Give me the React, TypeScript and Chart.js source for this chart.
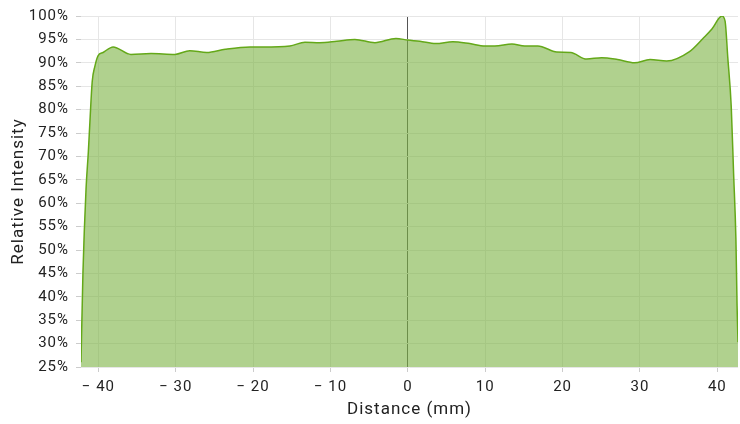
import React, { useEffect, useRef } from "react";
import { Chart, registerables } from "chart.js";

Chart.register(...registerables);

const distances = [
  -42.25, -42.0, -41.6, -41.3, -41.1, -40.8, -40.45, -40.05, -39.4, -38.1, -35.8, -33.2, -30.1, -28.2, -26.0,
  -23.6, -20.4, -18.7, -15.25, -13.3, -11.4, -9.2, -6.85, -4.26, -1.55, 0, 1.55, 3.6, 5.8, 8.0, 9.95, 11.25,
  13.45, 15.1, 16.8, 19.25, 21.05, 23.1, 25.05, 27.1, 29.3, 31.3, 33.45, 36.4, 38.2, 39.3, 40.6, 41.0, 41.35,
  41.8, 42.1, 42.4, 42.55, 42.67,
];
const intensities = [
  26, 45, 63, 71, 77.3, 86, 89.3, 91.5, 92.2, 93.4, 91.8, 92.0, 91.8, 92.6, 92.2,
  92.9, 93.4, 93.4, 93.6, 94.4, 94.3, 94.6, 95.0, 94.3, 95.2, 94.85, 94.6, 94.1, 94.5, 94.1, 93.6, 93.6,
  94.0, 93.6, 93.6, 92.3, 92.2, 90.8, 91.1, 90.7, 90.0, 90.7, 90.4, 92.4, 95.3, 97.2, 100, 98.9, 91.1,
  80.5, 66.4, 52.3, 38.1, 30.3,
];
const xMin = -42.25;
const xMax = 42.67;
const yMin = 25;
const yMax = 100;
const xTitle = "Distance (mm)";
const yTitle = "Relative Intensity";

const spacingPlugin = {
  id: "letterSpacing",
  beforeUpdate(chart: any) {
    chart.ctx.letterSpacing = "1px";
  },
  beforeDraw(chart: any) {
    chart.ctx.letterSpacing = "1px";
  },
};

export default function App() {
  const ref = useRef<HTMLCanvasElement>(null);
  useEffect(() => {
    if (!ref.current) return;
    const points = distances.map((d, i) => ({ x: d, y: intensities[i] }));
    const tickFont = { family: "Roboto", size: 15 };
    const titleFont = { family: "Roboto", size: 17 };
    const chart = new Chart(ref.current, {
      type: "line",
      data: {
        datasets: [
          {
            data: points,
            borderColor: "#64a819",
            backgroundColor: "rgba(124,179,66,0.6)",
            borderWidth: 1.5,
            fill: "origin",
            pointRadius: 0,
            cubicInterpolationMode: "monotone",
          },
        ],
      },
      plugins: [spacingPlugin],
      options: {
        animation: false,
        responsive: false,
        maintainAspectRatio: false,
        layout: { autoPadding: false, padding: { top: 13, right: 2, left: 0, bottom: 0 } },
        plugins: { legend: { display: false }, tooltip: { enabled: false } },
        scales: {
          x: {
            type: "linear",
            min: xMin,
            max: xMax,
            border: { display: false },
            grid: {
              color: (c: any) => (c.tick && c.tick.value === 0 ? "#555555" : "#e6e6e6"),
              tickLength: 5,
              tickColor: "#cccccc",
            },
            ticks: {
              stepSize: 10,
              includeBounds: false,
              maxRotation: 0,
              padding: 6,
              color: "#222222",
              font: tickFont,
              callback: (v: any) => (v < 0 ? "\u2212 " + Math.abs(v) : String(v)),
            },
            title: { display: true, text: xTitle, color: "#222222", font: titleFont, padding: { top: 4, bottom: 4 } },
            afterFit: (s: any) => {
              s.height = 57;
            },
          },
          y: {
            min: yMin,
            max: yMax,
            border: { display: false },
            grid: { color: "#e6e6e6", tickLength: 5, tickColor: "#cccccc" },
            ticks: {
              stepSize: 5,
              padding: 7,
              color: "#222222",
              font: tickFont,
              callback: (v: any) => v + "%",
            },
            title: { display: true, text: yTitle, color: "#222222", font: titleFont, padding: { top: 9, bottom: 4 } },
            afterFit: (s: any) => {
              s.width = 81;
            },
          },
        },
      },
    });
    return () => chart.destroy();
  }, []);
  return (
    <div style={{ position: "fixed", left: 0, top: 0, width: 740, height: 424, background: "#fff" }}>
      <canvas ref={ref} width={740} height={424} style={{ width: 740, height: 424 }} />
    </div>
  );
}
